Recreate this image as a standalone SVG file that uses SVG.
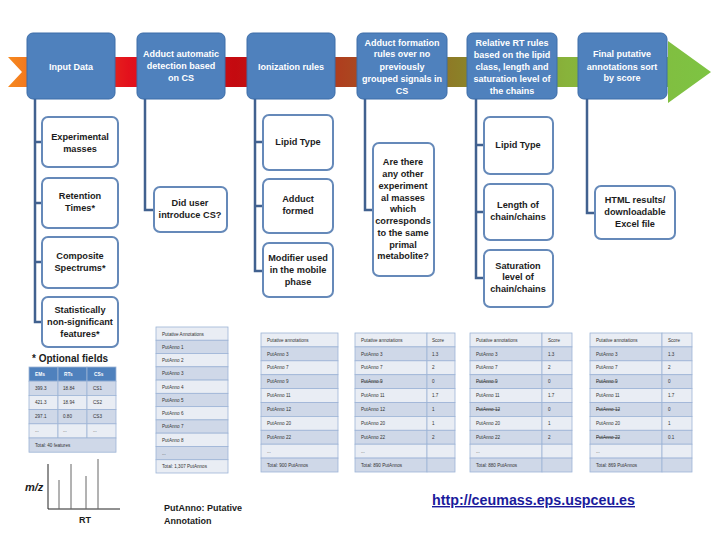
<svg xmlns="http://www.w3.org/2000/svg" width="713" height="536" viewBox="0 0 713 536">
<defs>
<linearGradient id="band" x1="0" y1="0" x2="713" y2="0" gradientUnits="userSpaceOnUse">
<stop offset="0" stop-color="#f7901e"/>
<stop offset="0.05" stop-color="#f2711f"/>
<stop offset="0.18" stop-color="#e3111c"/>
<stop offset="0.33" stop-color="#c40a10"/>
<stop offset="0.485" stop-color="#ad421f"/>
<stop offset="0.64" stop-color="#8c7e27"/>
<stop offset="0.795" stop-color="#88b33b"/>
<stop offset="1" stop-color="#7dc443"/>
</linearGradient>
<style>
.main{fill:#4f81bd;stroke:#3d6da8;stroke-width:1}
.mt{font-family:"Liberation Sans",Arial,sans-serif;font-weight:bold;font-size:9px;fill:#fff;text-anchor:middle}
.sub{fill:#fff;stroke:#6589b9;stroke-width:2}
.st{font-family:"Liberation Sans",Arial,sans-serif;font-weight:bold;font-size:9.2px;fill:#1c1c1c;text-anchor:middle}
.con{fill:none;stroke:#41618f;stroke-width:2.5}
.rl{fill:#e9edf4;stroke:#9db4d6;stroke-width:0.8}
.rd{fill:#cfd8e8;stroke:#9db4d6;stroke-width:0.8}
.rh{fill:#4f81bd;stroke:#9db4d6;stroke-width:0.8}
.tt{font-family:"Liberation Sans",Arial,sans-serif;font-size:4.6px;fill:#333}
.th{font-family:"Liberation Sans",Arial,sans-serif;font-size:4.8px;fill:#fff;font-weight:bold}
.sk{text-decoration:line-through}
.lb{font-family:"Liberation Sans",Arial,sans-serif;font-weight:bold;fill:#1c1c1c}
</style>
</defs>
<rect width="713" height="536" fill="#fff"/>

<g id="band-arrow">
<polygon points="8,57 668,57 668,41 711,72 668,103 668,87 8,87 22,72" fill="url(#band)"/>
</g>

<g id="connectors">
<path class="con" d="M35,98 V322 H42 M35,142 H42 M35,203 H42 M35,262 H42"/>
<path class="con" d="M145,98 V210 H154"/>
<path class="con" d="M255,98 V271 H263 M255,142 H263 M255,206 H263"/>
<path class="con" d="M365,98 V210 H373"/>
<path class="con" d="M476,98 V278 H484 M476,145 H484 M476,212 H484"/>
<path class="con" d="M587,98 V213 H595"/>
</g>

<g id="n-input">
<rect class="main" x="27" y="33" width="88" height="66" rx="6"/>
<text class="mt" x="71" y="70">Input Data</text>
</g>
<g id="n-adduct-detect">
<rect class="main" x="137" y="33" width="88" height="66" rx="6"/>
<text class="mt" x="181" y="57">Adduct automatic</text>
<text class="mt" x="181" y="69">detection based</text>
<text class="mt" x="181" y="81">on CS</text>
</g>
<g id="n-ionization">
<rect class="main" x="247" y="33" width="88" height="66" rx="6"/>
<text class="mt" x="291" y="70">Ionization rules</text>
</g>
<g id="n-adduct-form">
<rect class="main" x="357" y="33" width="90" height="66" rx="6"/>
<text class="mt" x="402" y="46">Adduct formation</text>
<text class="mt" x="402" y="57">rules over no</text>
<text class="mt" x="402" y="70">previously</text>
<text class="mt" x="402" y="82">grouped signals in</text>
<text class="mt" x="402" y="94">CS</text>
</g>
<g id="n-rt">
<rect class="main" x="467" y="33" width="90" height="66" rx="6"/>
<text class="mt" x="512" y="46">Relative RT rules</text>
<text class="mt" x="512" y="58">based on the lipid</text>
<text class="mt" x="512" y="70">class, length and</text>
<text class="mt" x="512" y="82">saturation level of</text>
<text class="mt" x="512" y="94">the chains</text>
</g>
<g id="n-final">
<rect class="main" x="578" y="33" width="89" height="66" rx="6"/>
<text class="mt" x="622" y="57">Final putative</text>
<text class="mt" x="622" y="70">annotations sort</text>
<text class="mt" x="622" y="81">by score</text>
</g>

<g id="s-exp">
<rect class="sub" x="42" y="117" width="76" height="50" rx="6"/>
<text class="st" x="80" y="140">Experimental</text>
<text class="st" x="80" y="152">masses</text>
</g>
<g id="s-ret">
<rect class="sub" x="42" y="178" width="76" height="50" rx="6"/>
<text class="st" x="80" y="199">Retention</text>
<text class="st" x="80" y="211">Times*</text>
</g>
<g id="s-comp">
<rect class="sub" x="42" y="237" width="76" height="51" rx="6"/>
<text class="st" x="80" y="259">Composite</text>
<text class="st" x="80" y="271">Spectrums*</text>
</g>
<g id="s-stat">
<rect class="sub" x="42" y="297" width="76" height="50" rx="6"/>
<text class="st" x="80" y="313">Statistically</text>
<text class="st" x="80" y="325">non-significant</text>
<text class="st" x="80" y="337">features*</text>
</g>
<g id="s-cs">
<rect class="sub" x="154" y="187" width="73" height="45" rx="6"/>
<text class="st" x="190" y="206">Did user</text>
<text class="st" x="190" y="218">introduce CS?</text>
</g>
<g id="s-lipid1">
<rect class="sub" x="263" y="115" width="70" height="55" rx="6"/>
<text class="st" x="298" y="145">Lipid Type</text>
</g>
<g id="s-adduct">
<rect class="sub" x="263" y="179" width="70" height="54" rx="6"/>
<text class="st" x="298" y="202">Adduct</text>
<text class="st" x="298" y="214">formed</text>
</g>
<g id="s-modifier">
<rect class="sub" x="263" y="243" width="70" height="54" rx="6"/>
<text class="st" x="298" y="261">Modifier used</text>
<text class="st" x="298" y="273">in the mobile</text>
<text class="st" x="298" y="285">phase</text>
</g>
<g id="s-other">
<rect class="sub" x="373" y="143" width="61" height="133" rx="6"/>
<text class="st" x="403" y="165">Are there</text>
<text class="st" x="403" y="177">any other</text>
<text class="st" x="403" y="189">experiment</text>
<text class="st" x="403" y="201">al masses</text>
<text class="st" x="403" y="212">which</text>
<text class="st" x="403" y="224">corresponds</text>
<text class="st" x="403" y="236">to the same</text>
<text class="st" x="403" y="248">primal</text>
<text class="st" x="403" y="259">metabolite?</text>
</g>
<g id="s-lipid2">
<rect class="sub" x="484" y="117" width="69" height="57" rx="6"/>
<text class="st" x="518" y="148">Lipid Type</text>
</g>
<g id="s-length">
<rect class="sub" x="484" y="184" width="69" height="56" rx="6"/>
<text class="st" x="518" y="208">Length of</text>
<text class="st" x="518" y="220">chain/chains</text>
</g>
<g id="s-sat">
<rect class="sub" x="484" y="250" width="69" height="57" rx="6"/>
<text class="st" x="518" y="269">Saturation</text>
<text class="st" x="518" y="280">level of</text>
<text class="st" x="518" y="292">chain/chains</text>
</g>
<g id="s-html">
<rect class="sub" x="595" y="186" width="80" height="53" rx="6"/>
<text class="st" x="635" y="203">HTML results/</text>
<text class="st" x="635" y="215">downloadable</text>
<text class="st" x="635" y="227">Excel file</text>
</g>

<g id="optional">
<text class="lb" x="32" y="362" font-size="10">* Optional fields</text>
</g>

<g id="table-input">
<rect class="rh" x="29" y="367" width="29" height="14.2"/><rect class="rh" x="58" y="367" width="29" height="14.2"/><rect class="rh" x="87" y="367" width="29" height="14.2"/>
<rect class="rd" x="29" y="381.2" width="29" height="14.2"/><rect class="rd" x="58" y="381.2" width="29" height="14.2"/><rect class="rd" x="87" y="381.2" width="29" height="14.2"/>
<rect class="rl" x="29" y="395.4" width="29" height="14.2"/><rect class="rl" x="58" y="395.4" width="29" height="14.2"/><rect class="rl" x="87" y="395.4" width="29" height="14.2"/>
<rect class="rd" x="29" y="409.6" width="29" height="14.2"/><rect class="rd" x="58" y="409.6" width="29" height="14.2"/><rect class="rd" x="87" y="409.6" width="29" height="14.2"/>
<rect class="rl" x="29" y="423.8" width="29" height="14.2"/><rect class="rl" x="58" y="423.8" width="29" height="14.2"/><rect class="rl" x="87" y="423.8" width="29" height="14.2"/>
<rect class="rd" x="29" y="438" width="87" height="14.2"/>
<text class="th" x="35" y="376">EMs</text><text class="th" x="64" y="376">RTs</text><text class="th" x="94" y="376">CSs</text>
<text class="tt" x="35" y="390">399.3</text><text class="tt" x="63" y="390">18.84</text><text class="tt" x="93" y="390">CS1</text>
<text class="tt" x="35" y="404">421.3</text><text class="tt" x="63" y="404">18.94</text><text class="tt" x="93" y="404">CS2</text>
<text class="tt" x="35" y="418">297.1</text><text class="tt" x="63" y="418">0.80</text><text class="tt" x="93" y="418">CS3</text>
<text class="tt" x="35" y="432">...</text><text class="tt" x="63" y="432">...</text><text class="tt" x="93" y="432">...</text>
<text class="tt" x="35" y="447">Total: 40 features</text>
</g>

<g id="chart">
<path d="M48,464 V509 H120" fill="none" stroke="#222" stroke-width="1"/>
<path d="M59,509 V480 M71,509 V464 M86,509 V476 M98,509 V459" fill="none" stroke="#666" stroke-width="1"/>
<text x="25" y="491" font-family="Liberation Sans,Arial,sans-serif" font-size="11" font-style="italic" font-weight="bold" fill="#1c1c1c">m/z</text>
<text class="lb" x="79" y="523" font-size="9">RT</text>
</g>

<g id="table-all">
<rect class="rl" x="156" y="327" width="72" height="13.27"/>
<rect class="rd" x="156" y="340.27" width="72" height="13.27"/>
<rect class="rl" x="156" y="353.54" width="72" height="13.27"/>
<rect class="rd" x="156" y="366.81" width="72" height="13.27"/>
<rect class="rl" x="156" y="380.08" width="72" height="13.27"/>
<rect class="rd" x="156" y="393.35" width="72" height="13.27"/>
<rect class="rl" x="156" y="406.62" width="72" height="13.27"/>
<rect class="rd" x="156" y="419.89" width="72" height="13.27"/>
<rect class="rl" x="156" y="433.16" width="72" height="13.27"/>
<rect class="rd" x="156" y="446.43" width="72" height="13.27"/>
<rect class="rl" x="156" y="459.7" width="72" height="13.3"/>
<text class="tt" x="162" y="335.5">Putative Annotations</text>
<text class="tt" x="162" y="348.8">PutAnno 1</text>
<text class="tt" x="162" y="362">PutAnno 2</text>
<text class="tt" x="162" y="375.3">PutAnno 3</text>
<text class="tt" x="162" y="388.6">PutAnno 4</text>
<text class="tt" x="162" y="401.9">PutAnno 5</text>
<text class="tt" x="162" y="415.1">PutAnno 6</text>
<text class="tt" x="162" y="428.4">PutAnno 7</text>
<text class="tt" x="162" y="441.7">PutAnno 8</text>
<text class="tt" x="162" y="455">...</text>
<text class="tt" x="162" y="468.2">Total: 1,307 PutAnnos</text>
</g>

<g id="table-ion">
<rect class="rl" x="261" y="333" width="77" height="13.9"/>
<rect class="rd" x="261" y="346.9" width="77" height="13.9"/>
<rect class="rl" x="261" y="360.8" width="77" height="13.9"/>
<rect class="rd" x="261" y="374.7" width="77" height="13.9"/>
<rect class="rl" x="261" y="388.6" width="77" height="13.9"/>
<rect class="rd" x="261" y="402.5" width="77" height="13.9"/>
<rect class="rl" x="261" y="416.4" width="77" height="13.9"/>
<rect class="rd" x="261" y="430.3" width="77" height="13.9"/>
<rect class="rl" x="261" y="444.2" width="77" height="13.9"/>
<rect class="rd" x="261" y="458.1" width="77" height="13.9"/>
<text class="tt" x="267" y="341.6">Putative annotations</text>
<text class="tt" x="267" y="355.5">PutAnno 3</text>
<text class="tt" x="267" y="369.4">PutAnno 7</text>
<text class="tt" x="267" y="383.3">PutAnno 9</text>
<text class="tt" x="267" y="397.2">PutAnno 11</text>
<text class="tt" x="267" y="411.1">PutAnno 12</text>
<text class="tt" x="267" y="425">PutAnno 20</text>
<text class="tt" x="267" y="438.9">PutAnno 22</text>
<text class="tt" x="267" y="452.8">...</text>
<text class="tt" x="267" y="466.7">Total: 900 PutAnnos</text>
</g>

<g id="table-d">
<rect class="rl" x="355" y="333" width="72" height="13.9"/><rect class="rl" x="427" y="333" width="28" height="13.9"/>
<rect class="rd" x="355" y="346.9" width="72" height="13.9"/><rect class="rd" x="427" y="346.9" width="28" height="13.9"/>
<rect class="rl" x="355" y="360.8" width="72" height="13.9"/><rect class="rl" x="427" y="360.8" width="28" height="13.9"/>
<rect class="rd" x="355" y="374.7" width="72" height="13.9"/><rect class="rd" x="427" y="374.7" width="28" height="13.9"/>
<rect class="rl" x="355" y="388.6" width="72" height="13.9"/><rect class="rl" x="427" y="388.6" width="28" height="13.9"/>
<rect class="rd" x="355" y="402.5" width="72" height="13.9"/><rect class="rd" x="427" y="402.5" width="28" height="13.9"/>
<rect class="rl" x="355" y="416.4" width="72" height="13.9"/><rect class="rl" x="427" y="416.4" width="28" height="13.9"/>
<rect class="rd" x="355" y="430.3" width="72" height="13.9"/><rect class="rd" x="427" y="430.3" width="28" height="13.9"/>
<rect class="rl" x="355" y="444.2" width="72" height="13.9"/><rect class="rl" x="427" y="444.2" width="28" height="13.9"/>
<rect class="rd" x="355" y="458.1" width="72" height="13.9"/><rect class="rd" x="427" y="458.1" width="28" height="13.9"/>
<text class="tt" x="361" y="341.6">Putative annotations</text><text class="tt" x="432" y="341.6">Score</text>
<text class="tt" x="361" y="355.5">PutAnno 3</text><text class="tt" x="432" y="355.5">1.3</text>
<text class="tt" x="361" y="369.4">PutAnno 7</text><text class="tt" x="432" y="369.4">2</text>
<text class="tt sk" x="361" y="383.3">PutAnno 9</text><text class="tt" x="432" y="383.3">0</text>
<text class="tt" x="361" y="397.2">PutAnno 11</text><text class="tt" x="432" y="397.2">1.7</text>
<text class="tt" x="361" y="411.1">PutAnno 12</text><text class="tt" x="432" y="411.1">1</text>
<text class="tt" x="361" y="425">PutAnno 20</text><text class="tt" x="432" y="425">1</text>
<text class="tt" x="361" y="438.9">PutAnno 22</text><text class="tt" x="432" y="438.9">2</text>
<text class="tt" x="361" y="452.8">...</text>
<text class="tt" x="361" y="466.7">Total: 890 PutAnnos</text>
</g>

<g id="table-e">
<rect class="rl" x="470" y="333" width="72" height="13.9"/><rect class="rl" x="542" y="333" width="30" height="13.9"/>
<rect class="rd" x="470" y="346.9" width="72" height="13.9"/><rect class="rd" x="542" y="346.9" width="30" height="13.9"/>
<rect class="rl" x="470" y="360.8" width="72" height="13.9"/><rect class="rl" x="542" y="360.8" width="30" height="13.9"/>
<rect class="rd" x="470" y="374.7" width="72" height="13.9"/><rect class="rd" x="542" y="374.7" width="30" height="13.9"/>
<rect class="rl" x="470" y="388.6" width="72" height="13.9"/><rect class="rl" x="542" y="388.6" width="30" height="13.9"/>
<rect class="rd" x="470" y="402.5" width="72" height="13.9"/><rect class="rd" x="542" y="402.5" width="30" height="13.9"/>
<rect class="rl" x="470" y="416.4" width="72" height="13.9"/><rect class="rl" x="542" y="416.4" width="30" height="13.9"/>
<rect class="rd" x="470" y="430.3" width="72" height="13.9"/><rect class="rd" x="542" y="430.3" width="30" height="13.9"/>
<rect class="rl" x="470" y="444.2" width="72" height="13.9"/><rect class="rl" x="542" y="444.2" width="30" height="13.9"/>
<rect class="rd" x="470" y="458.1" width="72" height="13.9"/><rect class="rd" x="542" y="458.1" width="30" height="13.9"/>
<text class="tt" x="476" y="341.6">Putative annotations</text><text class="tt" x="548" y="341.6">Score</text>
<text class="tt" x="476" y="355.5">PutAnno 3</text><text class="tt" x="548" y="355.5">1.3</text>
<text class="tt" x="476" y="369.4">PutAnno 7</text><text class="tt" x="548" y="369.4">2</text>
<text class="tt sk" x="476" y="383.3">PutAnno 9</text><text class="tt" x="548" y="383.3">0</text>
<text class="tt" x="476" y="397.2">PutAnno 11</text><text class="tt" x="548" y="397.2">1.7</text>
<text class="tt sk" x="476" y="411.1">PutAnno 12</text><text class="tt" x="548" y="411.1">0</text>
<text class="tt" x="476" y="425">PutAnno 20</text><text class="tt" x="548" y="425">1</text>
<text class="tt" x="476" y="438.9">PutAnno 22</text><text class="tt" x="548" y="438.9">2</text>
<text class="tt" x="476" y="452.8">...</text>
<text class="tt" x="476" y="466.7">Total: 880 PutAnnos</text>
</g>

<g id="table-f">
<rect class="rl" x="590" y="333" width="72" height="13.9"/><rect class="rl" x="662" y="333" width="30" height="13.9"/>
<rect class="rd" x="590" y="346.9" width="72" height="13.9"/><rect class="rd" x="662" y="346.9" width="30" height="13.9"/>
<rect class="rl" x="590" y="360.8" width="72" height="13.9"/><rect class="rl" x="662" y="360.8" width="30" height="13.9"/>
<rect class="rd" x="590" y="374.7" width="72" height="13.9"/><rect class="rd" x="662" y="374.7" width="30" height="13.9"/>
<rect class="rl" x="590" y="388.6" width="72" height="13.9"/><rect class="rl" x="662" y="388.6" width="30" height="13.9"/>
<rect class="rd" x="590" y="402.5" width="72" height="13.9"/><rect class="rd" x="662" y="402.5" width="30" height="13.9"/>
<rect class="rl" x="590" y="416.4" width="72" height="13.9"/><rect class="rl" x="662" y="416.4" width="30" height="13.9"/>
<rect class="rd" x="590" y="430.3" width="72" height="13.9"/><rect class="rd" x="662" y="430.3" width="30" height="13.9"/>
<rect class="rl" x="590" y="444.2" width="72" height="13.9"/><rect class="rl" x="662" y="444.2" width="30" height="13.9"/>
<rect class="rd" x="590" y="458.1" width="72" height="13.9"/><rect class="rd" x="662" y="458.1" width="30" height="13.9"/>
<text class="tt" x="596" y="341.6">Putative annotations</text><text class="tt" x="668" y="341.6">Score</text>
<text class="tt" x="596" y="355.5">PutAnno 3</text><text class="tt" x="668" y="355.5">1.3</text>
<text class="tt" x="596" y="369.4">PutAnno 7</text><text class="tt" x="668" y="369.4">2</text>
<text class="tt sk" x="596" y="383.3">PutAnno 9</text><text class="tt" x="668" y="383.3">0</text>
<text class="tt" x="596" y="397.2">PutAnno 11</text><text class="tt" x="668" y="397.2">1.7</text>
<text class="tt sk" x="596" y="411.1">PutAnno 12</text><text class="tt" x="668" y="411.1">0</text>
<text class="tt" x="596" y="425">PutAnno 20</text><text class="tt" x="668" y="425">1</text>
<text class="tt sk" x="596" y="438.9">PutAnno 22</text><text class="tt" x="668" y="438.9">0.1</text>
<text class="tt" x="596" y="452.8">...</text>
<text class="tt" x="596" y="466.7">Total: 869 PutAnnos</text>
</g>

<g id="legend">
<text class="lb" x="164" y="511" font-size="9">PutAnno: Putative</text>
<text class="lb" x="164" y="524" font-size="9">Annotation</text>
</g>
<g id="link">
<text x="432" y="505" font-family="Liberation Sans,Arial,sans-serif" font-weight="bold" font-size="14" fill="#1a1a9c" text-decoration="underline" textLength="203" lengthAdjust="spacingAndGlyphs">http://ceumass.eps.uspceu.es</text>
</g>
</svg>
